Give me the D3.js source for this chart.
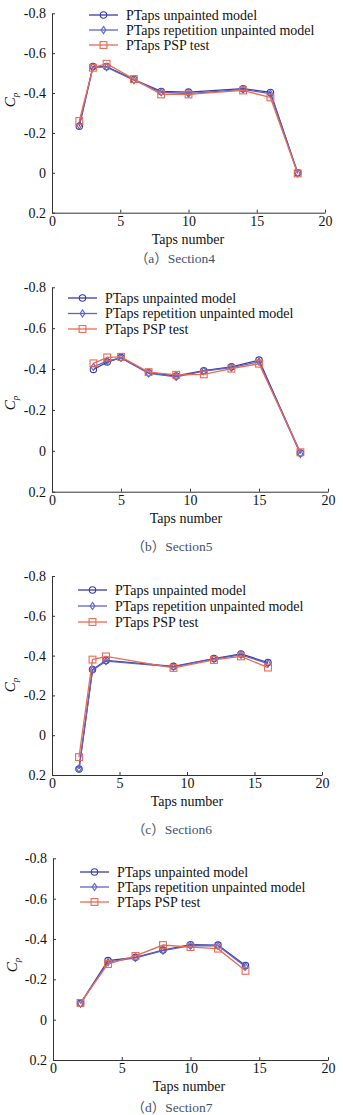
<!DOCTYPE html>
<html>
<head>
<meta charset="utf-8">
<script src="https://cdn.jsdelivr.net/npm/d3@7"></script>
<style>
  body { margin: 0; background: #fff; }
  text { font-family: "Liberation Serif", "Times New Roman", serif; }
</style>
</head>
<body>
<script>
var w = 343;
var h = 1115;

var seriesNames = ["PTaps unpainted model", "PTaps repetition unpainted model", "PTaps PSP test"];
var xTicks = [0, 5, 10, 15, 20];
var yTicks = [-0.8, -0.6, -0.4, -0.2, 0, 0.2];
var captions = ["（a）Section4", "（b）Section5", "（c）Section6", "（d）Section7"];

// Section4
var taps4 = [2, 3, 4, 6, 8, 10, 14, 16, 18];
var unpainted4 = [-0.233, -0.533, -0.533, -0.468, -0.408, -0.405, -0.422, -0.403, 0.0];
var repetition4 = [-0.238, -0.530, -0.530, -0.465, -0.404, -0.397, -0.418, -0.397, 0.003];
var psp4 = [-0.26, -0.527, -0.547, -0.47, -0.393, -0.393, -0.413, -0.378, 0.003];

// Section5
var taps5 = [3, 4, 5, 7, 9, 11, 13, 15, 18];
var unpainted5 = [-0.398, -0.434, -0.456, -0.382, -0.366, -0.392, -0.411, -0.444, 0.011];
var repetition5 = [-0.41, -0.44, -0.454, -0.379, -0.362, -0.39, -0.407, -0.436, 0.015];
var psp5 = [-0.428, -0.457, -0.46, -0.385, -0.372, -0.374, -0.402, -0.426, 0.007];

// Section6
var taps6 = [2, 3, 4, 9, 12, 14, 16];
var unpainted6 = [0.17, -0.33, -0.376, -0.346, -0.385, -0.408, -0.365];
var repetition6 = [0.168, -0.327, -0.372, -0.343, -0.383, -0.404, -0.36];
var psp6 = [0.11, -0.38, -0.396, -0.338, -0.378, -0.396, -0.34];

// Section7
var taps7 = [2, 4, 6, 8, 10, 12, 14];
var unpainted7 = [-0.081, -0.293, -0.309, -0.345, -0.372, -0.37, -0.268];
var repetition7 = [-0.079, -0.285, -0.306, -0.342, -0.367, -0.366, -0.263];
var psp7 = [-0.083, -0.276, -0.316, -0.37, -0.36, -0.352, -0.242];

var colors = ["#3a3d9c", "#5f63c6", "#ea6a52"];
var markers = ["circle", "diamond", "square"];

// layout of each panel (pixels)
var panels = [
  { taps: taps4, series: [unpainted4, repetition4, psp4], left: 52, right: 325, top: 13.3, bottom: 212.7,
    legX: 89, legY: 15, legGap: 15, cpX: 10, cpY: 100, tapsX: 188, capX: 175, capY: 263 },
  { taps: taps5, series: [unpainted5, repetition5, psp5], left: 52, right: 328, top: 287.3, bottom: 491.7,
    legX: 68, legY: 298, legGap: 15.5, cpX: 10, cpY: 403, tapsX: 186, capX: 172, capY: 551 },
  { taps: taps6, series: [unpainted6, repetition6, psp6], left: 52, right: 322, top: 576, bottom: 775,
    legX: 78, legY: 590, legGap: 16, cpX: 10, cpY: 685, tapsX: 187, capX: 172, capY: 834 },
  { taps: taps7, series: [unpainted7, repetition7, psp7], left: 53, right: 328, top: 858.3, bottom: 1060,
    legX: 80, legY: 872, legGap: 15, cpX: 12, cpY: 965, tapsX: 189, capX: 172, capY: 1112 }
];

var svg = d3.select("body")
  .append("svg")
  .attr("width", w)
  .attr("height", h);

function drawMarker(g, type, x, y, color) {
  if (type === "circle") {
    g.append("circle").attr("cx", x).attr("cy", y).attr("r", 3.2)
      .attr("fill", "none").attr("stroke", color).attr("stroke-width", 1.1);
  } else if (type === "diamond") {
    g.append("path")
      .attr("d", "M" + x + "," + (y - 3.6) + "L" + (x + 2.4) + "," + y + "L" + x + "," + (y + 3.6) + "L" + (x - 2.4) + "," + y + "Z")
      .attr("fill", "none").attr("stroke", color).attr("stroke-width", 1.1);
  } else {
    g.append("rect").attr("x", x - 3.4).attr("y", y - 3.4).attr("width", 6.8).attr("height", 6.8)
      .attr("fill", "none").attr("stroke", color).attr("stroke-width", 1.1);
  }
}

panels.forEach(function(p, pi) {
  var g = svg.append("g");

  var xScale = d3.scaleLinear().domain([0, 20]).range([p.left, p.right]);
  var yScale = d3.scaleLinear().domain([-0.8, 0.2]).range([p.top, p.bottom]);

  var xAxis = d3.axisBottom(xScale)
    .tickValues(xTicks)
    .tickSize(-3)
    .tickSizeOuter(0)
    .tickPadding(3)
    .tickFormat(d3.format("d"));

  var yAxis = d3.axisLeft(yScale)
    .tickValues(yTicks)
    .tickSize(-3)
    .tickSizeOuter(0)
    .tickPadding(6)
    .tickFormat(function(d) { return String(Math.round(d * 10) / 10); });

  var gx = g.append("g")
    .attr("transform", "translate(0," + p.bottom + ")")
    .call(xAxis);
  var gy = g.append("g")
    .attr("transform", "translate(" + p.left + ",0)")
    .call(yAxis);

  [gx, gy].forEach(function(a) {
    a.selectAll("path, line").attr("stroke", "#333").attr("stroke-width", 1);
    a.selectAll("text")
      .attr("fill", "#111")
      .style("font-family", "'Liberation Serif', serif")
      .style("font-size", "14px");
  });

  // series lines + markers
  p.series.forEach(function(vals, si) {
    var pts = p.taps.map(function(t, i) { return [t, vals[i]]; });
    var line = d3.line()
      .x(function(d) { return xScale(d[0]); })
      .y(function(d) { return yScale(d[1]); });
    g.append("path")
      .attr("d", line(pts))
      .attr("fill", "none")
      .attr("stroke", colors[si])
      .attr("stroke-width", 1.3);
    var mg = g.append("g");
    pts.forEach(function(d) {
      drawMarker(mg, markers[si], xScale(d[0]), yScale(d[1]), colors[si]);
    });
  });

  // legend
  var leg = g.append("g");
  seriesNames.forEach(function(name, si) {
    var ly = p.legY + si * p.legGap;
    leg.append("line")
      .attr("x1", p.legX).attr("x2", p.legX + 29)
      .attr("y1", ly).attr("y2", ly)
      .attr("stroke", colors[si]).attr("stroke-width", 1.3);
    drawMarker(leg, markers[si], p.legX + 14.5, ly, colors[si]);
    leg.append("text")
      .attr("x", p.legX + 37)
      .attr("y", ly + 4.8)
      .style("font-size", "14px")
      .attr("fill", "#111")
      .text(name);
  });

  // Cp label
  var cp = g.append("text")
    .attr("transform", "translate(" + (p.cpX + 5) + "," + p.cpY + ") rotate(-90)")
    .style("text-anchor", "middle")
    .style("font-size", "15px")
    .attr("fill", "#111");
  cp.append("tspan").style("font-style", "italic").text("C");
  cp.append("tspan").style("font-style", "italic").style("font-size", "9px").attr("dy", 3).text("p");

  g.append("text")
    .attr("x", p.tapsX)
    .attr("y", p.bottom + 31)
    .style("text-anchor", "middle")
    .style("font-size", "14px")
    .attr("fill", "#111")
    .text("Taps number");

  g.append("text")
    .attr("x", p.capX)
    .attr("y", p.capY)
    .style("text-anchor", "middle")
    .style("font-family", "'Liberation Serif', 'Noto Sans CJK SC', serif")
    .style("font-size", "13.5px")
    .attr("fill", "#44506a")
    .text(captions[pi]);
});
</script>
</body>
</html>
